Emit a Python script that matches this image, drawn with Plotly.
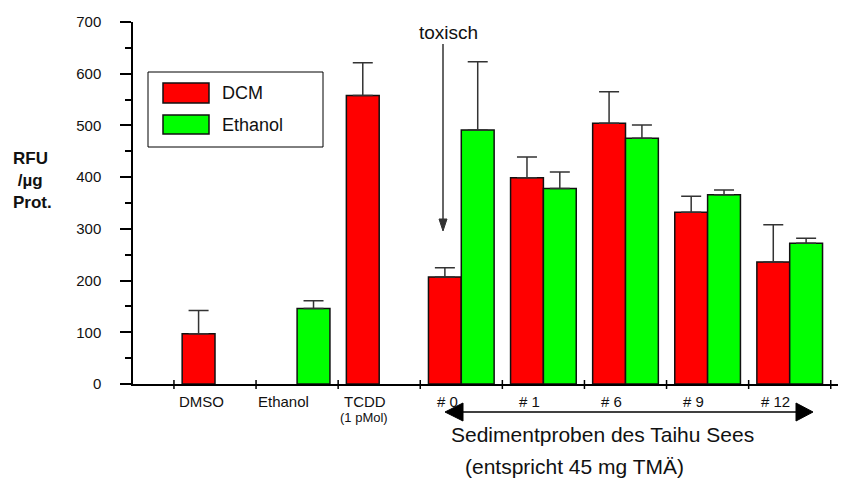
import plotly.graph_objects as go

# ---- data ----
categories = ["DMSO", "Ethanol", "TCDD", "# 0", "# 1", "# 6", "# 9", "# 12"]
sublabels = ["", "", "(1 pMol)", "", "", "", "", ""]
dcm = [97, None, 558, 207, 399, 504, 332, 236]
dcm_err = [45, 0, 63, 18, 40, 61, 31, 72]
ethanol = [None, 146, None, 491, 378, 475, 366, 272]
ethanol_err = [0, 15, 0, 132, 32, 26, 9, 10]
y_ticks = [0, 100, 200, 300, 400, 500, 600, 700]

W, H = 862, 479
L, R, T, B = 133, 838, 22, 384  # plot area in pixels
FONT = "Liberation Sans, Arial, sans-serif"


def px(x):
    return (x - L) / (R - L)


def py(y):
    return (B - y) / (B - T)


xs = list(range(len(categories)))

fig = go.Figure()
fig.add_trace(go.Bar(
    x=xs, y=dcm, name="DCM",
    marker=dict(color="#FF0000", line=dict(color="#111111", width=1.5)),
    error_y=dict(type="data", symmetric=False, array=dcm_err,
                 arrayminus=[0] * len(dcm_err), color="#333333",
                 thickness=1.5, width=10),
))
fig.add_trace(go.Bar(
    x=xs, y=ethanol, name="Ethanol",
    marker=dict(color="#00FF00", line=dict(color="#111111", width=1.5)),
    error_y=dict(type="data", symmetric=False, array=ethanol_err,
                 arrayminus=[0] * len(ethanol_err), color="#333333",
                 thickness=1.5, width=10),
))

shapes = []
annotations = []

# x-axis tick marks straddling the axis at category boundaries
for i in range(len(categories) + 1):
    xb = i - 0.5
    shapes.append(dict(type="line", xref="x", yref="paper", x0=xb, x1=xb,
                       y0=py(B + 5), y1=py(B - 4),
                       line=dict(color="black", width=1.5)))

# category labels
for i, (lab, sub) in enumerate(zip(categories, sublabels)):
    annotations.append(dict(x=i - 0.17, y=py(401), xref="x", yref="paper",
                            text=lab, showarrow=False,
                            font=dict(family=FONT, size=15, color="#111"),
                            xanchor="center", yanchor="middle"))
    if sub:
        annotations.append(dict(x=i - 0.19, y=py(417), xref="x", yref="paper",
                                text=sub, showarrow=False,
                                font=dict(family=FONT, size=13, color="#111"),
                                xanchor="center", yanchor="middle"))

# y-axis title
annotations.append(dict(x=px(33), y=py(180), xref="paper", yref="paper",
                        text="<b>RFU</b><br><b> /µg</b><br><b>Prot.</b>",
                        showarrow=False, align="left",
                        font=dict(family=FONT, size=17, color="#111"),
                        xanchor="center", yanchor="middle"))

# legend box
shapes.append(dict(type="rect", xref="paper", yref="paper",
                   x0=px(148), x1=px(323), y0=py(147), y1=py(72),
                   line=dict(color="black", width=1), fillcolor="white"))
shapes.append(dict(type="rect", xref="paper", yref="paper",
                   x0=px(163), x1=px(209), y0=py(103), y1=py(83),
                   line=dict(color="#111", width=1.5), fillcolor="#FF0000"))
shapes.append(dict(type="rect", xref="paper", yref="paper",
                   x0=px(163), x1=px(209), y0=py(134), y1=py(115),
                   line=dict(color="#111", width=1.5), fillcolor="#00FF00"))
annotations.append(dict(x=px(220), y=py(93), xref="paper", yref="paper",
                        text="DCM", showarrow=False, xanchor="left", yanchor="middle",
                        font=dict(family=FONT, size=18, color="#111")))
annotations.append(dict(x=px(220), y=py(125), xref="paper", yref="paper",
                        text="Ethanol", showarrow=False, xanchor="left", yanchor="middle",
                        font=dict(family=FONT, size=18, color="#111")))

# "toxisch" arrow
annotations.append(dict(x=px(448), y=py(32), xref="paper", yref="paper",
                        text="toxisch", showarrow=False, xanchor="center", yanchor="middle",
                        font=dict(family=FONT, size=19, color="#111")))
shapes.append(dict(type="line", xref="paper", yref="paper",
                   x0=px(443), x1=px(443), y0=py(44), y1=py(222),
                   line=dict(color="#333", width=1.5)))
shapes.append(dict(type="path", xref="paper", yref="paper",
                   path=f"M {px(439)},{py(219)} L {px(447)},{py(219)} L {px(443)},{py(231)} Z",
                   line=dict(color="#333", width=1), fillcolor="#333"))

# double-headed arrow below sediment samples
shapes.append(dict(type="line", xref="paper", yref="paper",
                   x0=px(455), x1=px(803), y0=py(412), y1=py(412),
                   line=dict(color="black", width=1.5)))
shapes.append(dict(type="path", xref="paper", yref="paper",
                   path=f"M {px(445)},{py(412)} L {px(463)},{py(403)} L {px(463)},{py(421)} Z",
                   line=dict(color="black", width=1), fillcolor="black"))
shapes.append(dict(type="path", xref="paper", yref="paper",
                   path=f"M {px(813)},{py(412)} L {px(796)},{py(403)} L {px(796)},{py(421)} Z",
                   line=dict(color="black", width=1), fillcolor="black"))
annotations.append(dict(x=px(602), y=py(434), xref="paper", yref="paper",
                        text="Sedimentproben des Taihu Sees", showarrow=False,
                        xanchor="center", yanchor="middle",
                        font=dict(family=FONT, size=21, color="#111")))
annotations.append(dict(x=px(574), y=py(467), xref="paper", yref="paper",
                        text="(entspricht 45 mg TMÄ)", showarrow=False,
                        xanchor="center", yanchor="middle",
                        font=dict(family=FONT, size=21, color="#111")))

x_left = (L - 215) / 82.1
x_right = (R - 215) / 82.1

fig.update_layout(
    width=W, height=H,
    margin=dict(l=L, r=W - R, t=T, b=H - B, pad=0),
    paper_bgcolor="white", plot_bgcolor="white",
    showlegend=False,
    barmode="group", bargap=0.2, bargroupgap=0,
    shapes=shapes, annotations=annotations,
    font=dict(family=FONT, color="#111"),
)
fig.update_xaxes(range=[x_left, x_right], showline=True, linecolor="black",
                 linewidth=1.5, showgrid=False, zeroline=False,
                 showticklabels=False, ticks="", fixedrange=True)
fig.update_yaxes(range=[0, 700], tickvals=y_ticks, showline=True,
                 linecolor="black", linewidth=1.5, showgrid=False,
                 zeroline=False, ticks="outside", ticklen=11, tickwidth=1.5,
                 tickcolor="black", ticklabelstandoff=16,
                 tickfont=dict(family=FONT, size=15, color="#111"),
                 minor=dict(tickvals=[50, 150, 250, 350, 450, 550, 650],
                            ticks="outside", ticklen=6, tickwidth=1.5,
                            tickcolor="black"))

fig.write_html("out.html")
